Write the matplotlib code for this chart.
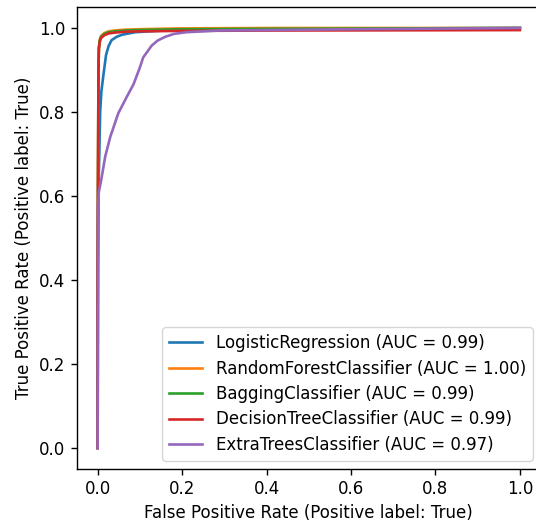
import matplotlib
matplotlib.use("Agg")
import matplotlib.pyplot as plt

names = ["LogisticRegression", "RandomForestClassifier", "BaggingClassifier",
         "DecisionTreeClassifier", "ExtraTreesClassifier"]
aucs = ["0.99", "1.00", "0.99", "0.99", "0.97"]
colors = ["#1f77b4", "#ff7f0e", "#2ca02c", "#d62728", "#9467bd"]

lr_fpr = [0.0, 0.001, 0.002, 0.004, 0.006, 0.009, 0.014, 0.02, 0.026, 0.033, 0.045, 0.058, 0.089, 0.19, 0.4, 1.0]
lr_tpr = [0.0, 0.3, 0.62, 0.7, 0.8, 0.85, 0.89, 0.936, 0.957, 0.971, 0.979, 0.984, 0.99, 0.996, 0.998, 1.0]

rf_fpr = [0.0, 0.0, 0.002, 0.003, 0.005, 0.008, 0.016, 0.026, 0.04, 0.065, 0.094, 0.19, 0.4, 1.0]
rf_tpr = [0.0, 0.4, 0.9, 0.955, 0.972, 0.981, 0.988, 0.992, 0.994, 0.996, 0.997, 0.999, 1.0, 1.0]

bg_fpr = [0.0, 0.0, 0.002, 0.003, 0.005, 0.008, 0.016, 0.026, 0.04, 0.065, 0.094, 0.19, 0.4, 1.0]
bg_tpr = [0.0, 0.4, 0.9, 0.952, 0.97, 0.979, 0.986, 0.99, 0.992, 0.994, 0.995, 0.997, 0.998, 1.0]

dt_fpr = [0.0, 0.0, 0.002, 0.003, 0.005, 0.008, 0.016, 0.026, 0.04, 0.065, 0.094, 0.19, 0.4, 1.0]
dt_tpr = [0.0, 0.4, 0.9, 0.95, 0.966, 0.976, 0.983, 0.987, 0.989, 0.991, 0.992, 0.993, 0.994, 0.995]

et_fpr = [0.0, 0.0005, 0.001, 0.003, 0.008, 0.018, 0.03, 0.049, 0.069, 0.085, 0.099, 0.108, 0.128, 0.142, 0.16, 0.181, 0.21, 0.288, 0.6, 1.0]
et_tpr = [0.0, 0.3, 0.58, 0.61, 0.635, 0.694, 0.741, 0.797, 0.836, 0.866, 0.903, 0.93, 0.958, 0.97, 0.979, 0.986, 0.99, 0.994, 0.997, 1.0]

curves = [(lr_fpr, lr_tpr), (rf_fpr, rf_tpr), (bg_fpr, bg_tpr), (dt_fpr, dt_tpr), (et_fpr, et_tpr)]

plt.rcParams["font.size"] = 12
plt.rcParams["lines.linewidth"] = 1.9
plt.rcParams["lines.solid_joinstyle"] = "round"

fig = plt.figure(figsize=(5.36, 5.23), dpi=100)
ax = fig.add_axes([76.5/536, 1 - 469/523, 464.5/536, 462/523])
for (f, t), n, a, c in zip(curves, names, aucs, colors):
    ax.plot(f, t, color=c, label=f"{n} (AUC = {a})")
ax.set_xlabel("False Positive Rate (Positive label: True)")
ax.set_ylabel("True Positive Rate (Positive label: True)")
ax.set_xticks([0.0, 0.2, 0.4, 0.6, 0.8, 1.0])
ax.set_yticks([0.0, 0.2, 0.4, 0.6, 0.8, 1.0])
ax.set_xlim(-0.05, 1.05)
ax.set_ylim(-0.05, 1.05)
ax.tick_params(length=4.5, width=1.0)
for s in ax.spines.values():
    s.set_linewidth(1.0)
ax.legend(loc="lower right", labelspacing=0.45)
fig.savefig("out.png", dpi=100)
